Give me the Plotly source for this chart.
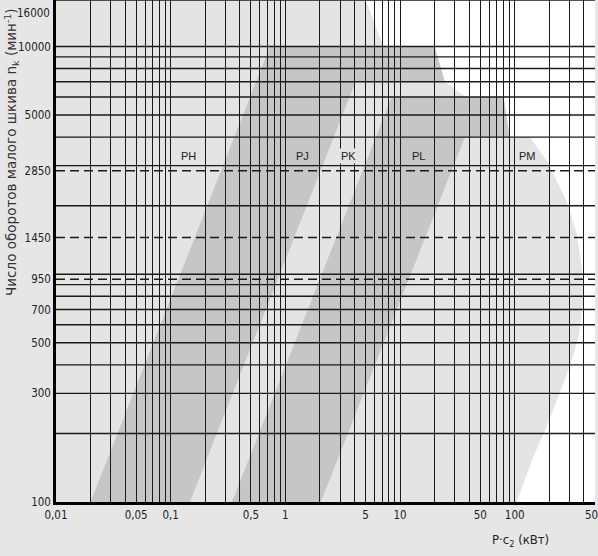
import math
import plotly.graph_objects as go

# ---------------- data ----------------
# vertical grid / x ticks (power P*c2, kW)
x_grid = [0.01, 0.02, 0.03, 0.04, 0.05, 0.06, 0.07, 0.08, 0.09,
          0.1, 0.2, 0.3, 0.4, 0.5, 0.6, 0.7, 0.8, 0.9,
          1, 2, 3, 4, 5, 6, 7, 8, 9,
          10, 20, 30, 40, 50, 60, 70, 80, 90,
          100, 200, 300, 400, 500]
x_label_vals = [0.01, 0.05, 0.1, 0.5, 1, 5, 10, 50, 100, 500]
x_label_text = ["0,01", "0,05", "0,1", "0,5", "1", "5", "10", "50", "100", "500"]

# horizontal grid (speed, 1/min)
y_grid = [200, 300, 400, 500, 600, 700, 800, 900, 1000,
          2000, 3000, 4000, 5000, 6000, 7000, 8000, 9000, 10000, 16000]
y_dashed = [950, 1450, 2850]
y_label_vals = [100, 300, 500, 700, 950, 1450, 2850, 5000, 10000]
y_label_text = ["100", "300", "500", "700", "950", "1450", "2850", "5000", "10000"]
y_top_label = "16000"

# zone outlines (P in kW, n in 1/min)
all_zone_P = [0.01, 0.01, 5.0, 7.2, 20, 24.6, 37.6, 80, 90, 135, 194, 285,
              348, 385, 393, 363, 303, 233, 183, 141, 104]
all_zone_n = [100, 16000, 16000, 10000, 10000, 7000, 6000, 6000, 4000, 4000,
              3100, 2080, 1500, 1060, 760, 536, 396, 279, 206, 152, 100]
pj_P = [0.02, 0.734, 20, 24.6, 4.1, 0.147]
pj_n = [100, 10000, 10000, 7000, 7000, 100]
pl_P = [0.342, 8.45, 80, 90, 36.7, 2.04]
pl_n = [100, 6000, 6000, 4000, 4000, 100]

zone_names = ["PH", "PJ", "PK", "PL", "PM"]
zone_label_P = [0.144, 1.42, 3.58, 14.6, 130]
zone_label_n = [3300, 3300, 3300, 3300, 3300]

LIGHT = "#e4e4e4"
DARK = "#c6c6c6"
zone_label_bg = [LIGHT, DARK, LIGHT, DARK, LIGHT]

NARROW = "DejaVu Sans Condensed, Liberation Sans Narrow, sans-serif"
GRID = "#1a1a1a"


def path_of(xs, ys):
    pts = [f"{x},{y}" for x, y in zip(xs, ys)]
    return "M " + " L ".join(pts) + " Z"


fig = go.Figure()
fig.add_trace(go.Scatter(x=[], y=[], mode="markers", showlegend=False, hoverinfo="skip"))

shapes = []
for xs, ys, col in [(all_zone_P, all_zone_n, LIGHT), (pj_P, pj_n, DARK), (pl_P, pl_n, DARK)]:
    shapes.append(dict(type="path", path=path_of(xs, ys), xref="x", yref="y",
                       fillcolor=col, line=dict(width=0), layer="below"))
for v in y_grid:
    shapes.append(dict(type="line", xref="paper", yref="y", x0=0, x1=1, y0=v, y1=v,
                       line=dict(color=GRID, width=1.4), layer="above"))
for v in y_dashed:
    shapes.append(dict(type="line", xref="paper", yref="y", x0=0, x1=1, y0=v, y1=v,
                       line=dict(color=GRID, width=1.5, dash="9px,5px"), layer="above"))

x_ticktext = [x_label_text[x_label_vals.index(v)] if v in x_label_vals else "" for v in x_grid]

annotations = []
for name, px, ny, bg in zip(zone_names, zone_label_P, zone_label_n, zone_label_bg):
    annotations.append(dict(x=math.log10(px), y=math.log10(ny), xref="x", yref="y",
                            xanchor="center", yanchor="middle",
                            text=name, showarrow=False, bgcolor=bg, borderpad=1,
                            font=dict(family="Liberation Sans, Arial, sans-serif", size=11, color="#222")))
annotations.append(dict(x=-0.007, y=0.992, xref="paper", yref="paper", xanchor="right", yanchor="top",
                        text=y_top_label, showarrow=False,
                        font=dict(family=NARROW, size=11.5, color="#222")))
annotations.append(dict(x=-0.082, y=0.697, xref="paper", yref="paper", textangle=-90,
                        xanchor="center", yanchor="middle",
                        text="Число оборотов малого шкива n<sub>k</sub> (мин<sup>-1</sup>)",
                        showarrow=False,
                        font=dict(family="DejaVu Sans, sans-serif", size=13.5, color="#333")))
annotations.append(dict(x=0.861, y=-0.076, xref="paper", yref="paper",
                        xanchor="center", yanchor="middle",
                        text="P·c<sub>2</sub> (кВт)", showarrow=False,
                        font=dict(family=NARROW, size=13, color="#222")))

fig.update_layout(
    width=598, height=556,
    margin=dict(l=56, r=3, t=0, b=54, autoexpand=False),
    paper_bgcolor="#e6e6e6", plot_bgcolor="white",
    showlegend=False,
    shapes=shapes, annotations=annotations,
    xaxis=dict(type="log", range=[-2, math.log10(501)], tickmode="array",
               tickvals=x_grid, ticktext=x_ticktext, showgrid=True, automargin=False,
               ticklabeloverflow="allow",
               gridcolor=GRID, gridwidth=1.4, zeroline=False,
               showline=True, linecolor="black", linewidth=2.5, ticks="",
               tickfont=dict(family=NARROW, size=11.5, color="#222")),
    yaxis=dict(type="log", range=[2, math.log10(16000)], tickmode="array",
               tickvals=y_label_vals, ticktext=y_label_text, showgrid=False, automargin=False,
               ticklabeloverflow="allow",
               zeroline=False, showline=True, linecolor="black", linewidth=2.5,
               ticks="", tickfont=dict(family=NARROW, size=11.5, color="#222")),
)

fig.write_html("out.html", config={"displayModeBar": False},
               post_script="document.body.style.margin='0px';")
